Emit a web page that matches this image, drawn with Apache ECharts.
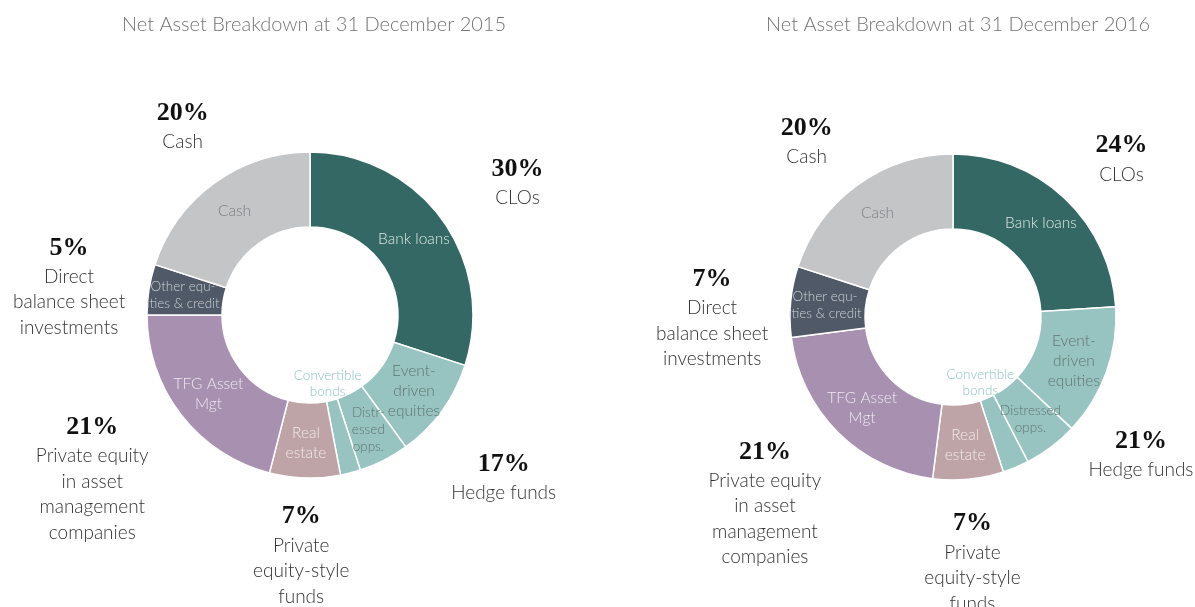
<!DOCTYPE html>
<html>
<head>
<meta charset="utf-8">
<script src="https://cdn.jsdelivr.net/npm/echarts@6/dist/echarts.min.js"></script>
<style>html,body{margin:0;padding:0;background:#fff}#c{width:1195px;height:607px}</style>
</head>
<body>
<div id="c"></div>
<script>
// ---- data ----
const titles = ['Net Asset Breakdown at 31 December 2015', 'Net Asset Breakdown at 31 December 2016'];
const sliceNames = ['Bank loans', 'Event-driven equities', 'Distressed opps.', 'Convertible bonds', 'Real estate', 'TFG Asset Mgt', 'Other equities & credit', 'Cash'];
const sliceLabels2015 = ['Bank loans', 'Event-\ndriven\nequities', 'Distr-\nessed\nopps.', 'Convertible\nbonds', 'Real\nestate', 'TFG Asset\nMgt', 'Other equ-\nities & credit', 'Cash'];
const sliceLabels2016 = ['Bank loans', 'Event-\ndriven\nequities', 'Distressed\nopps.', 'Convertible\nbonds', 'Real\nestate', 'TFG Asset\nMgt', 'Other equ-\nities & credit', 'Cash'];
const values2015 = [30, 10, 5, 2, 7, 21, 5, 20];
const values2016 = [24, 13, 5.4, 2.6, 7, 21, 7, 20];
const sliceGroup = [0, 1, 1, 1, 2, 3, 4, 5];
const groupNames = ['CLOs', 'Hedge funds', 'Private\nequity-style\nfunds', 'Private equity\nin asset\nmanagement\ncompanies', 'Direct\nbalance sheet\ninvestments', 'Cash'];

// ---- styles ----
const sliceColors = ['#336864', '#97c4c1', '#97c4c1', '#97c4c1', '#bfa4a7', '#a790b0', '#4f5967', '#c4c5c7'];
const sliceTextColors = ['#dbe6e4', '#5f7472', '#5f7472', '#8ec3bf', '#f0e8e8', '#efe8f2', '#cdd1d8', '#7d7e80'];
const sliceTextSizes = [15.5, 15.5, 13.5, 13.5, 15.5, 15.5, 13.5, 15.5];
const sliceLineHeights = [20, 20, 17, 16.5, 20, 20, 17, 20];
const groupLabelShift2015 = [[6, 13], [29, -25], [-1, -9], [-21, 11], [5, 10], [19, 12]];
const groupLabelShift2016 = [[-2, 23], [-18, -3], [-4, -3], [-12, 10], [7, 24], [0, 25]];
const SANS = 'Lato, "Noto Sans", sans-serif';

function buildSeries(values, labels, center, shifts) {
  const donut = values.map((v, i) => ({
    name: sliceNames[i], value: v,
    itemStyle: { color: sliceColors[i] },
    label: {
      show: i !== 3, formatter: labels[i], color: sliceTextColors[i],
      fontSize: sliceTextSizes[i], lineHeight: sliceLineHeights[i]
    }
  }));
  const inner = values.map((v, i) => ({
    name: sliceNames[i], value: v,
    label: { show: i === 3, formatter: labels[i], color: sliceTextColors[i], fontSize: sliceTextSizes[i], lineHeight: sliceLineHeights[i] }
  }));
  const gsum = groupNames.map(() => 0);
  values.forEach((v, i) => { gsum[sliceGroup[i]] += v; });
  const outer = gsum.map((v, g) => ({
    name: groupNames[g], value: v,
    label: {
      offset: shifts[g],
      formatter: '{pct|' + Math.round(v) + '%}\n' + groupNames[g].split('\n').map(l => '{nm|' + l + '}').join('\n')
    }
  }));
  return [
    {
      type: 'pie', center: center, radius: [88, 163], startAngle: 90, clockwise: true,
      silent: true, avoidLabelOverlap: false,
      itemStyle: { borderColor: '#ffffff', borderWidth: 1.5 },
      label: { position: 'inside', fontFamily: SANS, fontWeight: 300 },
      labelLine: { show: false },
      emphasis: { disabled: true },
      data: donut
    },
    {
      type: 'pie', center: center, radius: [0, 136], startAngle: 90, clockwise: true,
      silent: true, avoidLabelOverlap: false, z: 3,
      itemStyle: { color: 'rgba(0,0,0,0)', borderWidth: 0 },
      label: { position: 'inside', fontFamily: SANS, fontWeight: 300 },
      labelLine: { show: false },
      emphasis: { disabled: true },
      data: inner
    },
    {
      type: 'pie', center: center, radius: [0, 492], startAngle: 90, clockwise: true,
      silent: true, avoidLabelOverlap: false, z: 3,
      itemStyle: { color: 'rgba(0,0,0,0)', borderWidth: 0 },
      label: {
        position: 'inside', align: 'center',
        rich: {
          pct: { fontFamily: '"Liberation Serif", serif', fontWeight: 'bold', fontSize: 26, lineHeight: 32, color: '#111', align: 'center' },
          nm: { fontFamily: SANS, fontWeight: 300, fontSize: 19, lineHeight: 25.5, color: '#333', align: 'center' }
        }
      },
      labelLine: { show: false },
      emphasis: { disabled: true },
      data: outer
    }
  ];
}

const chart = echarts.init(document.getElementById('c'), null, { renderer: 'canvas' });
chart.setOption({
  backgroundColor: '#ffffff',
  animation: false,
  title: [
    { text: titles[0], left: 309, top: 10, textAlign: 'center',
      textStyle: { fontFamily: SANS, fontWeight: 300, fontSize: 20, color: '#747474' } },
    { text: titles[1], left: 953, top: 10, textAlign: 'center',
      textStyle: { fontFamily: SANS, fontWeight: 300, fontSize: 20, color: '#747474' } }
  ],
  series: [].concat(
    buildSeries(values2015, sliceLabels2015, [310, 315], groupLabelShift2015),
    buildSeries(values2016, sliceLabels2016, [953, 317], groupLabelShift2016)
  )
});
</script>
</body>
</html>
